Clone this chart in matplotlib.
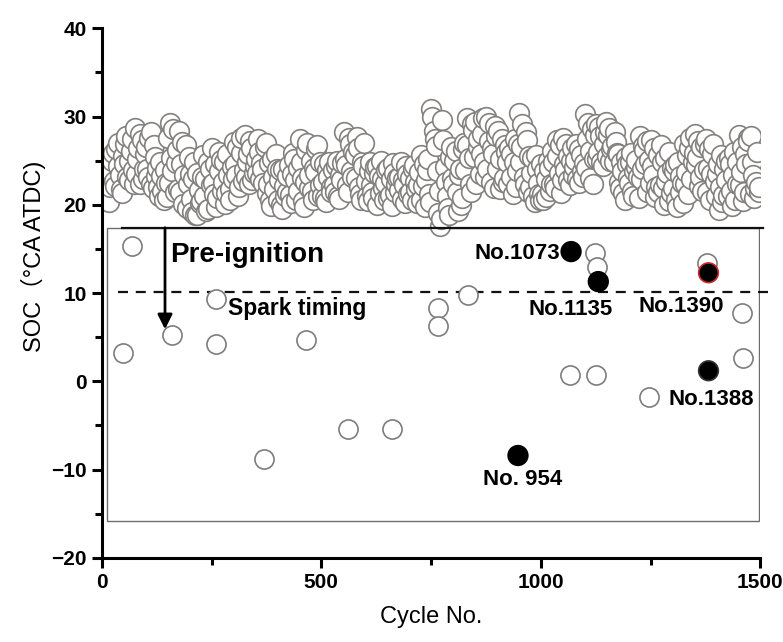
import numpy as np
import matplotlib
matplotlib.use("Agg")
import matplotlib.pyplot as plt
from matplotlib.patches import Rectangle

plt.rcParams['font.family'] = ['Liberation Sans', 'Noto Sans CJK SC', 'DejaVu Sans']

# Normal combustion cycles: SOC read off in two passes, every 5 cycles,
# pass A starting at cycle 1 and pass B at cycle 3 (°CA ATDC)
normal_step = 5
soc_normal_a = [
    21.5, 24.8, 22.6, 20.3, 23.7, 25.9, 22.1, 27.0, 23.4, 21.3,
    24.6, 27.8, 22.8, 26.1, 23.9, 28.7, 25.2, 22.4, 27.3, 24.0,
    26.5, 23.1, 28.2, 21.9, 25.4, 24.2, 21.0, 23.3, 20.6, 22.5,
    27.6, 29.3, 23.8, 21.4, 26.2, 28.4, 24.6, 20.1, 26.8, 22.3,
    23.5, 19.2, 24.8, 18.8, 21.7, 20.4, 25.6, 22.9, 19.5, 24.0,
    26.4, 21.2, 19.7, 23.8, 25.1, 22.6, 20.1, 25.7, 21.8, 24.3,
    27.1, 23.4, 21.0, 25.9, 22.7, 27.9, 24.8, 22.3, 26.4, 23.6,
    25.2, 27.4, 22.9, 24.1, 26.6, 21.3, 24.7, 19.9, 23.2, 25.8,
    20.6, 23.9, 19.5, 22.1, 21.4, 24.5, 20.2, 25.9, 22.8, 21.6,
    27.5, 23.0, 19.8, 26.2, 21.9, 25.0, 20.5, 23.7, 26.8, 22.2,
    21.0, 24.6, 20.3, 23.2, 22.0, 23.9, 21.4, 25.0, 20.7, 22.8,
    28.3, 24.5, 21.5, 26.9, 23.1, 25.6, 27.7, 22.0, 20.6, 24.4,
    22.7, 20.4, 24.8, 21.5, 23.6, 20.0, 23.3, 25.0, 21.9, 22.5,
    24.2, 21.1, 19.9, 23.6, 22.4, 21.7, 24.9, 22.8, 20.2, 23.5,
    23.0, 20.6, 24.5, 21.8, 22.2, 25.6, 22.1, 19.8, 23.9, 21.2,
    30.8, 28.4, 26.7, 19.1, 17.6, 29.6, 24.3, 21.0, 18.9, 26.5,
    22.4, 26.1, 19.3, 24.0, 20.8, 27.0, 29.8, 25.3, 21.4, 28.5,
    29.4, 26.6, 23.5, 28.0, 24.9, 30.0, 27.2, 22.6, 25.8, 28.9,
    24.1, 21.8, 27.5, 23.0, 26.0, 22.3, 25.7, 21.2, 27.4, 23.8,
    30.4, 26.6, 23.1, 28.2, 21.5, 22.0, 25.3, 20.3, 24.1, 21.2,
    24.6, 20.5, 22.9, 25.0, 21.6, 26.1, 22.4, 27.3, 23.6, 21.3,
    27.6, 23.9, 25.5, 22.2, 26.4, 24.3, 26.9, 22.5, 25.6, 23.1,
    30.3, 27.4, 23.0, 28.6, 25.2, 29.1, 26.0, 27.8, 24.4, 28.3,
    25.5, 28.7, 26.3, 24.8, 27.1, 25.7, 21.9, 23.8, 20.6, 24.6,
    22.5, 25.9, 21.0, 24.3, 23.2, 27.8, 24.0, 26.2, 21.5, 25.1,
    27.3, 23.4, 20.9, 25.6, 22.2, 24.8, 20.0, 22.7, 26.0, 21.3,
    21.9, 24.5, 19.8, 23.3, 22.5, 26.9, 23.7, 21.2, 27.6, 24.8,
    28.0, 25.4, 22.1, 26.5, 23.9, 27.4, 24.2, 20.6, 25.8, 22.7,
    23.5, 19.4, 25.6, 21.1, 22.8, 21.0, 24.6, 19.9, 26.0, 22.3,
    27.9, 23.7, 20.4, 25.8, 27.6, 21.2, 24.9, 20.8, 22.6, 21.5,
]
soc_normal_b = [
    23.0, 20.8, 24.3, 22.0, 25.0, 22.7, 26.3, 24.4, 21.8, 25.5,
    26.9, 23.2, 25.0, 27.4, 22.3, 23.5, 26.4, 28.0, 22.9, 25.8,
    24.0, 27.6, 22.4, 26.8, 23.3, 22.0, 24.8, 21.6, 23.9, 20.9,
    22.5, 25.3, 28.6, 24.7, 21.8, 21.5, 27.1, 23.4, 19.6, 25.4,
    20.7, 22.9, 18.9, 23.6, 20.2, 23.2, 21.0, 19.3, 24.9, 22.2,
    22.5, 24.6, 20.8, 26.0, 21.6, 24.9, 21.3, 23.4, 20.5, 22.9,
    24.6, 26.5, 22.0, 27.6, 23.9, 23.1, 25.7, 27.2, 22.8, 24.4,
    23.6, 26.0, 24.7, 22.5, 27.0, 22.4, 20.5, 25.2, 21.8, 24.0,
    22.8, 20.0, 24.1, 21.0, 23.3, 21.1, 23.5, 25.2, 20.6, 24.2,
    24.8, 20.4, 22.6, 27.0, 23.4, 21.6, 24.2, 26.3, 21.0, 24.9,
    22.6, 20.8, 23.9, 24.9, 21.5, 22.2, 24.4, 21.0, 23.4, 24.7,
    25.2, 22.2, 27.6, 23.8, 26.0, 23.0, 26.4, 21.2, 24.9, 27.0,
    21.0, 23.8, 22.2, 20.8, 24.3, 24.4, 21.3, 22.9, 20.5, 23.9,
    20.8, 22.9, 24.7, 21.5, 23.0, 23.2, 20.7, 22.2, 24.4, 21.2,
    21.4, 24.0, 22.6, 20.2, 23.7, 20.5, 24.6, 22.8, 25.2, 20.3,
    29.9, 27.5, 23.8, 21.6, 18.4, 27.3, 22.6, 19.6, 25.4, 23.0,
    25.0, 21.5, 23.4, 20.0, 26.3, 23.9, 26.8, 22.4, 29.1, 25.4,
    22.4, 27.4, 25.7, 29.8, 23.2, 24.1, 29.3, 26.4, 21.9, 27.8,
    28.4, 25.2, 22.6, 26.8, 24.8, 26.4, 23.1, 24.9, 22.0, 26.9,
    24.9, 29.2, 22.4, 27.3, 25.5, 23.6, 21.0, 25.6, 22.5, 20.6,
    21.2, 23.8, 20.9, 24.2, 22.4, 24.8, 21.9, 25.5, 26.8, 22.8,
    24.6, 26.9, 22.8, 25.0, 23.4, 25.1, 22.9, 26.3, 23.8, 24.7,
    24.2, 29.3, 26.1, 22.4, 27.9, 25.2, 28.8, 24.8, 26.9, 29.4,
    27.9, 25.0, 26.7, 28.2, 25.9, 22.6, 24.9, 21.3, 25.4, 23.0,
    24.8, 21.6, 23.8, 25.1, 20.8, 22.9, 26.7, 24.6, 27.2, 22.5,
    24.4, 26.4, 22.0, 21.5, 26.8, 21.9, 25.3, 23.6, 20.4, 24.2,
    23.8, 20.6, 24.9, 21.5, 20.2, 22.4, 25.6, 26.4, 22.9, 25.9,
    24.5, 27.2, 23.2, 21.6, 26.9, 21.5, 26.3, 23.5, 26.9, 21.0,
    24.6, 22.0, 20.3, 24.0, 25.0, 25.3, 21.6, 23.4, 20.6, 24.9,
    22.2, 26.6, 21.4, 24.6, 27.2, 27.8, 23.4, 21.9, 26.0, 22.0,
]

# Pre-ignition cycles (open circles)
pre_cycles = [68, 48, 160, 260, 260, 465, 766, 766, 835, 1124, 1128, 1379,
              1459, 1461, 1067, 1126, 1247, 369, 561, 661]
pre_soc = [15.3, 3.2, 5.2, 9.3, 4.2, 4.7, 8.3, 6.3, 9.8, 14.5, 12.9, 13.4,
           7.7, 2.7, 0.7, 0.7, -1.8, -8.8, -5.4, -5.4]

# Highlighted cycles (filled)
hi_cycles = [1069, 1131, 1382, 1382, 948]
hi_soc = [14.7, 11.3, 12.3, 1.2, -8.4]
hi_labels = ['No.1073', 'No.1135', 'No.1390', 'No.1388', 'No. 954']

spark_timing = 10.1

fig = plt.figure(figsize=(7.83, 6.42), dpi=100)
ax = fig.add_axes([0.130, 0.131, 0.841, 0.825])

cyc = np.concatenate([1 + normal_step * np.arange(len(soc_normal_a)),
                      3 + normal_step * np.arange(len(soc_normal_b))])
soc = np.concatenate([soc_normal_a, soc_normal_b])
order = np.argsort(cyc, kind='stable')
ax.scatter(cyc[order], soc[order], s=200, facecolor='white',
           edgecolor='#83807f', linewidth=1.2, zorder=2)

# pre-ignition region box
ax.add_patch(Rectangle((11, -15.8), 1485, 33.2, fill=False,
                       edgecolor='#6e6e6e', linewidth=1.0, zorder=1))
ax.plot([46, 1507], [17.4, 17.4], color='#111111', lw=1.6, zorder=4,
        clip_on=False)

ax.plot([37, 1525], [spark_timing, spark_timing], color='#111111', lw=1.6,
        dashes=(4.5, 3.5), zorder=3, clip_on=False)

ax.scatter(pre_cycles, pre_soc, s=190, facecolor='white',
           edgecolor='#7d7d7d', linewidth=1.2, zorder=5)

hi_edge = ['black', 'black', '#d02828', '#333333', 'black']
ax.scatter(hi_cycles, hi_soc, s=200, facecolor='black', edgecolor=hi_edge,
           linewidth=1.2, zorder=6)

# labels for the marked cycles
lab_x = [1044, 1067, 1320, 1290, 958]
lab_y = [14.5, 8.1, 8.5, -2.0, -11.1]
lab_ha = ['right', 'center', 'center', 'left', 'center']
for lbl, x, y, ha in zip(hi_labels, lab_x, lab_y, lab_ha):
    ax.text(x, y, lbl, fontsize=16, fontweight='bold', ha=ha, va='center',
            zorder=7)

ax.annotate('', xy=(144, 5.9), xytext=(144, 17.4),
            arrowprops=dict(arrowstyle='-|>', lw=2, color='black',
                            mutation_scale=22, shrinkA=0, shrinkB=0),
            zorder=7)
ax.text(155, 14.3, 'Pre-ignition', fontsize=20, fontweight='bold',
        va='center', ha='left')
ax.text(287, 8.2, 'Spark timing', fontsize=16.5, fontweight='bold',
        va='center', ha='left')

ax.set_xlim(0, 1500)
ax.set_ylim(-20, 40)
ax.set_xticks([0, 500, 1000, 1500])
ax.set_xticks([250, 750, 1250], minor=True)
ax.set_yticks(np.arange(-20, 41, 10))
ax.set_yticks(np.arange(-15, 40, 10), minor=True)

for side in ['top', 'right']:
    ax.spines[side].set_visible(False)
for side in ['left', 'bottom']:
    ax.spines[side].set_linewidth(2.2)

ax.tick_params(which='major', length=7, width=2.2, direction='out',
               labelsize=15, pad=4)
ax.tick_params(which='minor', length=5, width=2.2, direction='out')
for lab in ax.get_xticklabels() + ax.get_yticklabels():
    lab.set_fontweight('bold')

ax.set_xlabel('Cycle No.', fontsize=17, labelpad=10)
ax.set_ylabel('SOC（°CA ATDC)', fontsize=17)
ax.yaxis.set_label_coords(-0.085, 0.57)

fig.savefig('out.png', dpi=100)
